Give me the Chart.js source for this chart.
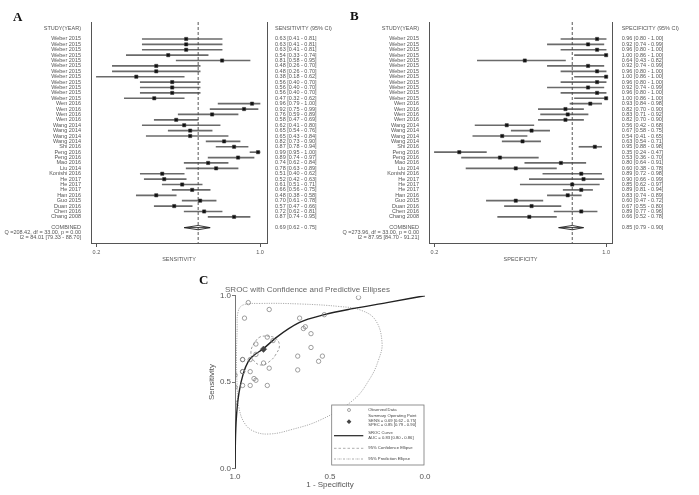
<!DOCTYPE html>
<html>
<head>
<meta charset="utf-8">
<script src="https://cdn.jsdelivr.net/npm/chart.js@4.4.0/dist/chart.umd.min.js"></script>
<style>
body { margin: 0; background: #fff; }
#wrap { position: relative; width: 699px; height: 495px; overflow: hidden; background: #fff; }
canvas, .tag { position: absolute; }
.tag { font: bold 13px "Liberation Serif", "Times New Roman", serif; color: #111; line-height: 13px; }
</style>
</head>
<body>
<div id="wrap">
  <canvas id="forestSens" width="340" height="270" style="left:0;top:0"></canvas>
  <canvas id="forestSpec" width="359" height="270" style="left:340px;top:0"></canvas>
  <canvas id="sroc" width="278" height="215" style="left:190px;top:280px"></canvas>
  <div class="tag" style="left:13px;top:10px">A</div>
  <div class="tag" style="left:350px;top:9px">B</div>
  <div class="tag" style="left:199px;top:273px">C</div>
</div>
<script>
// ---- data ----
var studies = [
    'Weber 2015', 'Weber 2015', 'Weber 2015', 'Weber 2015', 'Weber 2015', 'Weber 2015',
    'Weber 2015', 'Weber 2015', 'Weber 2015', 'Weber 2015', 'Weber 2015', 'Weber 2015',
    'Wen 2016', 'Wen 2016', 'Wen 2016', 'Wen 2016',
    'Wang 2014', 'Wang 2014', 'Wang 2014', 'Wang 2014',
    'Shi 2016', 'Peng 2016', 'Peng 2016', 'Mao 2016', 'Liu 2014', 'Konishi 2016',
    'He 2017', 'He 2017', 'He 2017', 'Han 2016', 'Guo 2015', 'Duan 2016', 'Chen 2016', 'Chang 2008'
];
var sens   = [0.63, 0.63, 0.63, 0.54, 0.81, 0.48, 0.48, 0.38, 0.56, 0.56, 0.56, 0.47,
              0.96, 0.92, 0.76, 0.58, 0.62, 0.65, 0.65, 0.82, 0.87, 0.99, 0.89, 0.74,
              0.78, 0.51, 0.52, 0.61, 0.66, 0.48, 0.70, 0.57, 0.72, 0.87];
var sensLo = [0.41, 0.41, 0.41, 0.33, 0.58, 0.26, 0.26, 0.18, 0.40, 0.40, 0.40, 0.32,
              0.79, 0.75, 0.59, 0.47, 0.41, 0.54, 0.43, 0.73, 0.78, 0.95, 0.74, 0.62,
              0.63, 0.40, 0.42, 0.51, 0.56, 0.38, 0.61, 0.47, 0.62, 0.74];
var sensHi = [0.81, 0.81, 0.81, 0.74, 0.95, 0.70, 0.70, 0.62, 0.70, 0.70, 0.70, 0.62,
              1.00, 0.99, 0.89, 0.69, 0.80, 0.76, 0.84, 0.90, 0.94, 1.00, 0.97, 0.84,
              0.89, 0.62, 0.63, 0.71, 0.75, 0.58, 0.78, 0.66, 0.81, 0.95];
var spec   = [0.96, 0.92, 0.96, 1.00, 0.64, 0.92, 0.96, 1.00, 0.96, 0.92, 0.96, 1.00,
              0.93, 0.82, 0.83, 0.82, 0.56, 0.67, 0.54, 0.63, 0.95, 0.35, 0.53, 0.80,
              0.60, 0.89, 0.90, 0.85, 0.89, 0.83, 0.60, 0.67, 0.89, 0.66];
var specLo = [0.80, 0.74, 0.80, 0.86, 0.43, 0.74, 0.80, 0.86, 0.80, 0.74, 0.80, 0.86,
              0.84, 0.70, 0.71, 0.70, 0.42, 0.58, 0.41, 0.54, 0.88, 0.24, 0.36, 0.64,
              0.38, 0.72, 0.66, 0.62, 0.81, 0.74, 0.47, 0.55, 0.77, 0.52];
var specHi = [1.00, 0.99, 1.00, 1.00, 0.82, 0.99, 1.00, 1.00, 1.00, 0.99, 1.00, 1.00,
              0.98, 0.90, 0.92, 0.90, 0.68, 0.75, 0.65, 0.71, 0.98, 0.47, 0.70, 0.91,
              0.78, 0.98, 0.99, 0.97, 0.94, 0.89, 0.72, 0.80, 0.96, 0.78];
var sensPooled = [0.69, 0.62, 0.75];
var specPooled = [0.85, 0.79, 0.90];
var sensHet = ['Q =208.42, df = 33.00, p = 0.00', 'I2 = 84.01 [79.33 - 88.70]'];
var specHet = ['Q =273.96, df = 33.00, p = 0.00', 'I2 = 87.95 [84.70 - 91.21]'];

// SROC curve and ellipses, (specificity, sensitivity) pairs
var curveSpec = [1.00, 0.998, 0.991, 0.977, 0.956, 0.93, 0.90, 0.854, 0.78, 0.66, 0.53, 0.38, 0.20, 0.00];
var curveSens = [0.00, 0.15, 0.32, 0.45, 0.55, 0.62, 0.655, 0.69, 0.76, 0.845, 0.89, 0.925, 0.96, 1.00];
var confSpec = [0.833, 0.789, 0.766, 0.784, 0.815, 0.859, 0.900, 0.916, 0.894, 0.868, 0.833];
var confSens = [0.767, 0.755, 0.714, 0.662, 0.622, 0.598, 0.622, 0.676, 0.732, 0.761, 0.767];
var predSpec = [0.989, 0.984, 0.958, 0.868, 0.657, 0.446, 0.340, 0.261, 0.226, 0.245, 0.288,
                0.377, 0.551, 0.710, 0.815, 0.894, 0.947, 0.979, 0.989, 0.992, 0.989];
var predSens = [0.801, 0.906, 0.946, 0.955, 0.952, 0.937, 0.917, 0.859, 0.726, 0.627, 0.523,
                0.396, 0.280, 0.222, 0.199, 0.211, 0.257, 0.350, 0.483, 0.656, 0.801];
var legendLines = [
    ['Observed Data'],
    ['Summary Operating Point', 'SENS = 0.69 [0.62 - 0.75]', 'SPEC = 0.85 [0.79 - 0.90]'],
    ['SROC Curve', 'AUC = 0.83 [0.80 - 0.86]'],
    ['95% Confidence Ellipse'],
    ['95% Prediction Ellipse']
];

var FAMILY = '"Liberation Sans", Arial, Helvetica, sans-serif';
var TEXT = '#555';
var ROW_TOP = -3.15, ROW_BOTTOM = 37.85, POOL_ROW = 35;

function ciText(v, lo, hi) {
    return v.toFixed(2) + ' [' + lo.toFixed(2) + ' - ' + hi.toFixed(2) + ']';
}

function tickList(list) {
    return function(scale) {
        scale.ticks = list.map(function(t) { return {value: t.v}; });
    };
}

function buildForest(canvasId, o) {
    var pts = [], bars = [], left = [{v: -2, t: 'STUDY(YEAR)'}], right = [{v: -2, t: o.header}];
    for (var i = 0; i < studies.length; i++) {
        pts.push({x: o.est[i], y: i});
        bars.push({x: [o.lo[i], o.hi[i]], y: i});
        left.push({v: i, t: studies[i]});
        right.push({v: i, t: ciText(o.est[i], o.lo[i], o.hi[i])});
    }
    var p = o.pooled;
    left.push({v: POOL_ROW, t: 'COMBINED'});
    left.push({v: POOL_ROW + 0.93, t: o.het[0]});
    left.push({v: POOL_ROW + 1.86, t: o.het[1]});
    right.push({v: POOL_ROW, t: ciText(p[0], p[1], p[2])});

    var small = {family: FAMILY, size: 5.5, lineHeight: 1.2};
    var yBase = {
        type: 'linear', reverse: true, min: ROW_TOP, max: ROW_BOTTOM, offset: false,
        grid: {display: false, drawTicks: false, offset: false},
        border: {display: true, color: '#555', width: 1}
    };

    return new Chart(document.getElementById(canvasId), {
        type: 'scatter',
        data: {
            datasets: [
                {
                    data: pts, pointStyle: 'rect', radius: 2.3,
                    backgroundColor: '#111', borderColor: '#333', borderWidth: 0.5
                },
                {
                    type: 'line', data: [
                        {x: p[1], y: POOL_ROW}, {x: p[0], y: POOL_ROW - 0.4}, {x: p[2], y: POOL_ROW},
                        {x: p[0], y: POOL_ROW + 0.4}, {x: p[1], y: POOL_ROW}, {x: p[2], y: POOL_ROW}
                    ],
                    borderColor: '#222', borderWidth: 0.9, pointRadius: 0, tension: 0
                },
                {
                    type: 'line', data: [{x: p[0], y: ROW_TOP}, {x: p[0], y: ROW_BOTTOM}],
                    borderColor: '#444', borderWidth: 0.9, borderDash: [3, 2], pointRadius: 0
                },
                {
                    type: 'bar', indexAxis: 'y', data: bars, barThickness: 1,
                    backgroundColor: '#6a6a6a', borderWidth: 0
                }
            ]
        },
        options: {
            responsive: false,
            animation: false,
            layout: {padding: {top: 22, left: 0, right: 0, bottom: 0}},
            plugins: {legend: {display: false}, tooltip: {enabled: false}},
            scales: {
                x: {
                    type: 'linear', position: 'bottom', min: o.xMin, max: o.xMax,
                    afterBuildTicks: function(s) { s.ticks = [{value: o.tickLo}, {value: 1}]; },
                    afterFit: function(s) { s.height = 27; },
                    ticks: {
                        autoSkip: false, maxRotation: 0, padding: 2.5, color: TEXT, font: small,
                        callback: function(v) { return v.toFixed(1); }
                    },
                    grid: {display: true, drawOnChartArea: false, drawTicks: true, tickLength: 4, color: '#555'},
                    border: {display: true, color: '#555', width: 1},
                    title: {display: true, text: o.title, color: TEXT, font: small, padding: {top: 0, bottom: 7.7}}
                },
                y: Object.assign({}, yBase, {
                    position: 'left',
                    afterBuildTicks: tickList(left),
                    afterFit: function(s) { s.width = o.leftW; },
                    ticks: {
                        autoSkip: false, padding: 10, color: TEXT, font: small,
                        callback: function(v, i) { return left[i] ? left[i].t : ''; }
                    }
                }),
                yR: Object.assign({}, yBase, {
                    position: 'right',
                    afterBuildTicks: tickList(right),
                    afterFit: function(s) { s.width = o.rightW; },
                    ticks: {
                        autoSkip: false, padding: o.rightPad, color: TEXT, font: small,
                        callback: function(v, i) { return right[i] ? right[i].t : ''; }
                    }
                })
            }
        }
    });
}

buildForest('forestSens', {
    est: sens, lo: sensLo, hi: sensHi, pooled: sensPooled, het: sensHet,
    header: 'SENSITIVITY (95% CI)', title: 'SENSITIVITY',
    xMin: 0.153, xMax: 1.035, tickLo: 0.18, leftW: 91, rightW: 73, rightPad: 8
});
buildForest('forestSpec', {
    est: spec, lo: specLo, hi: specHi, pooled: specPooled, het: specHet,
    header: 'SPECIFICITY (95% CI)', title: 'SPECIFICITY',
    xMin: 0.216, xMax: 1.026, tickLo: 0.24, leftW: 89, rightW: 87, rightPad: 9.7
});

// ---- panel C ----
function pairs(xs, ys) {
    return xs.map(function(x, i) { return {x: x, y: ys[i]}; });
}

var srocLegend = {
    id: 'srocLegend',
    afterDatasetsDraw: function(chart) {
        var a = chart.chartArea, ctx = chart.ctx;
        var x0 = a.right - 93.3, y0 = a.bottom - 63.3, w = 92.3, h = 60;
        ctx.save();
        ctx.fillStyle = '#fff';
        ctx.fillRect(x0, y0, w, h);
        ctx.strokeStyle = '#777';
        ctx.lineWidth = 0.8;
        ctx.strokeRect(x0, y0, w, h);

        var sx = x0 + 17.3, tx = x0 + 36.6;
        // symbols
        ctx.strokeStyle = '#666';
        ctx.lineWidth = 0.6;
        ctx.beginPath(); ctx.arc(sx, y0 + 5, 1.5, 0, Math.PI * 2); ctx.stroke();
        ctx.fillStyle = '#444';
        ctx.beginPath();
        ctx.moveTo(sx, y0 + 14.3); ctx.lineTo(sx + 2.4, y0 + 16.7);
        ctx.lineTo(sx, y0 + 19.1); ctx.lineTo(sx - 2.4, y0 + 16.7); ctx.closePath(); ctx.fill();
        function seg(y, dash, lw, col) {
            ctx.setLineDash(dash); ctx.lineWidth = lw; ctx.strokeStyle = col;
            ctx.beginPath(); ctx.moveTo(x0 + 2.3, y); ctx.lineTo(x0 + 31.6, y); ctx.stroke();
        }
        seg(y0 + 30.7, [], 1.2, '#222');
        seg(y0 + 43.3, [2.5, 2], 0.6, '#777');
        seg(y0 + 54, [2, 1, 0.5, 1], 0.6, '#777');
        ctx.setLineDash([]);

        // texts
        ctx.fillStyle = '#444';
        ctx.font = '4.2px ' + FAMILY;
        ctx.textBaseline = 'middle';
        ctx.textAlign = 'left';
        var ys = [[5], [11, 15.6, 20.2], [28.3, 32.9], [43.3], [54]];
        legendLines.forEach(function(lines, k) {
            lines.forEach(function(t, j) { ctx.fillText(t, tx, y0 + ys[k][j]); });
        });
        ctx.restore();
    }
};

var axisFont = {family: FAMILY, size: 8, lineHeight: 1.2};
new Chart(document.getElementById('sroc'), {
    type: 'scatter',
    data: {
        datasets: [
            {
                data: [{x: specPooled[0], y: sensPooled[0]}], pointStyle: 'rectRot', radius: 3.2,
                backgroundColor: '#444', borderColor: '#444', borderWidth: 0.5
            },
            {
                data: pairs(spec, sens), pointStyle: 'circle', radius: 2.2,
                backgroundColor: 'rgba(0,0,0,0)', borderColor: '#777', borderWidth: 0.7
            },
            {
                type: 'line', data: pairs(curveSpec, curveSens), borderColor: '#222', borderWidth: 1.4,
                pointRadius: 0, cubicInterpolationMode: 'monotone'
            },
            {
                type: 'line', data: pairs(confSpec, confSens), borderColor: '#777', borderWidth: 0.7,
                borderDash: [2.5, 2], pointRadius: 0, tension: 0.45
            },
            {
                type: 'line', data: pairs(predSpec, predSens), borderColor: '#888', borderWidth: 0.7,
                borderDash: [1.2, 1.2], pointRadius: 0, tension: 0.4
            }
        ]
    },
    options: {
        responsive: false,
        animation: false,
        layout: {padding: {top: 0, left: 0, right: 43, bottom: 0}},
        plugins: {
            legend: {display: false},
            tooltip: {enabled: false},
            title: {
                display: true, text: 'SROC with Confidence and Predictive Ellipses',
                color: '#666', font: {family: FAMILY, size: 8, weight: 'normal', lineHeight: 1.2},
                padding: {top: 5.2, bottom: 0.9}
            }
        },
        scales: {
            x: {
                type: 'linear', reverse: true, min: 0, max: 1,
                afterFit: function(s) { s.height = 26.7; },
                ticks: {stepSize: 0.5, padding: 3.6, color: TEXT, font: axisFont, maxRotation: 0,
                        callback: function(v) { return v.toFixed(1); }},
                grid: {display: false, drawTicks: false},
                border: {display: false},
                title: {display: true, text: '1 - Specificity', color: TEXT, font: axisFont,
                        padding: {top: 0, bottom: 5.2}}
            },
            y: {
                type: 'linear', min: 0, max: 1,
                afterFit: function(s) { s.width = 45; },
                ticks: {stepSize: 0.5, padding: 1, color: TEXT, font: axisFont,
                        callback: function(v) { return v.toFixed(1); }},
                grid: {display: true, drawOnChartArea: false, drawTicks: true, tickLength: 3, color: '#777'},
                border: {display: true, color: '#777', width: 1},
                title: {display: true, text: 'Sensitivity', color: TEXT, font: axisFont,
                        padding: {top: 16.9, bottom: 0}}
            }
        }
    },
    plugins: [srocLegend]
});
</script>
</body>
</html>
